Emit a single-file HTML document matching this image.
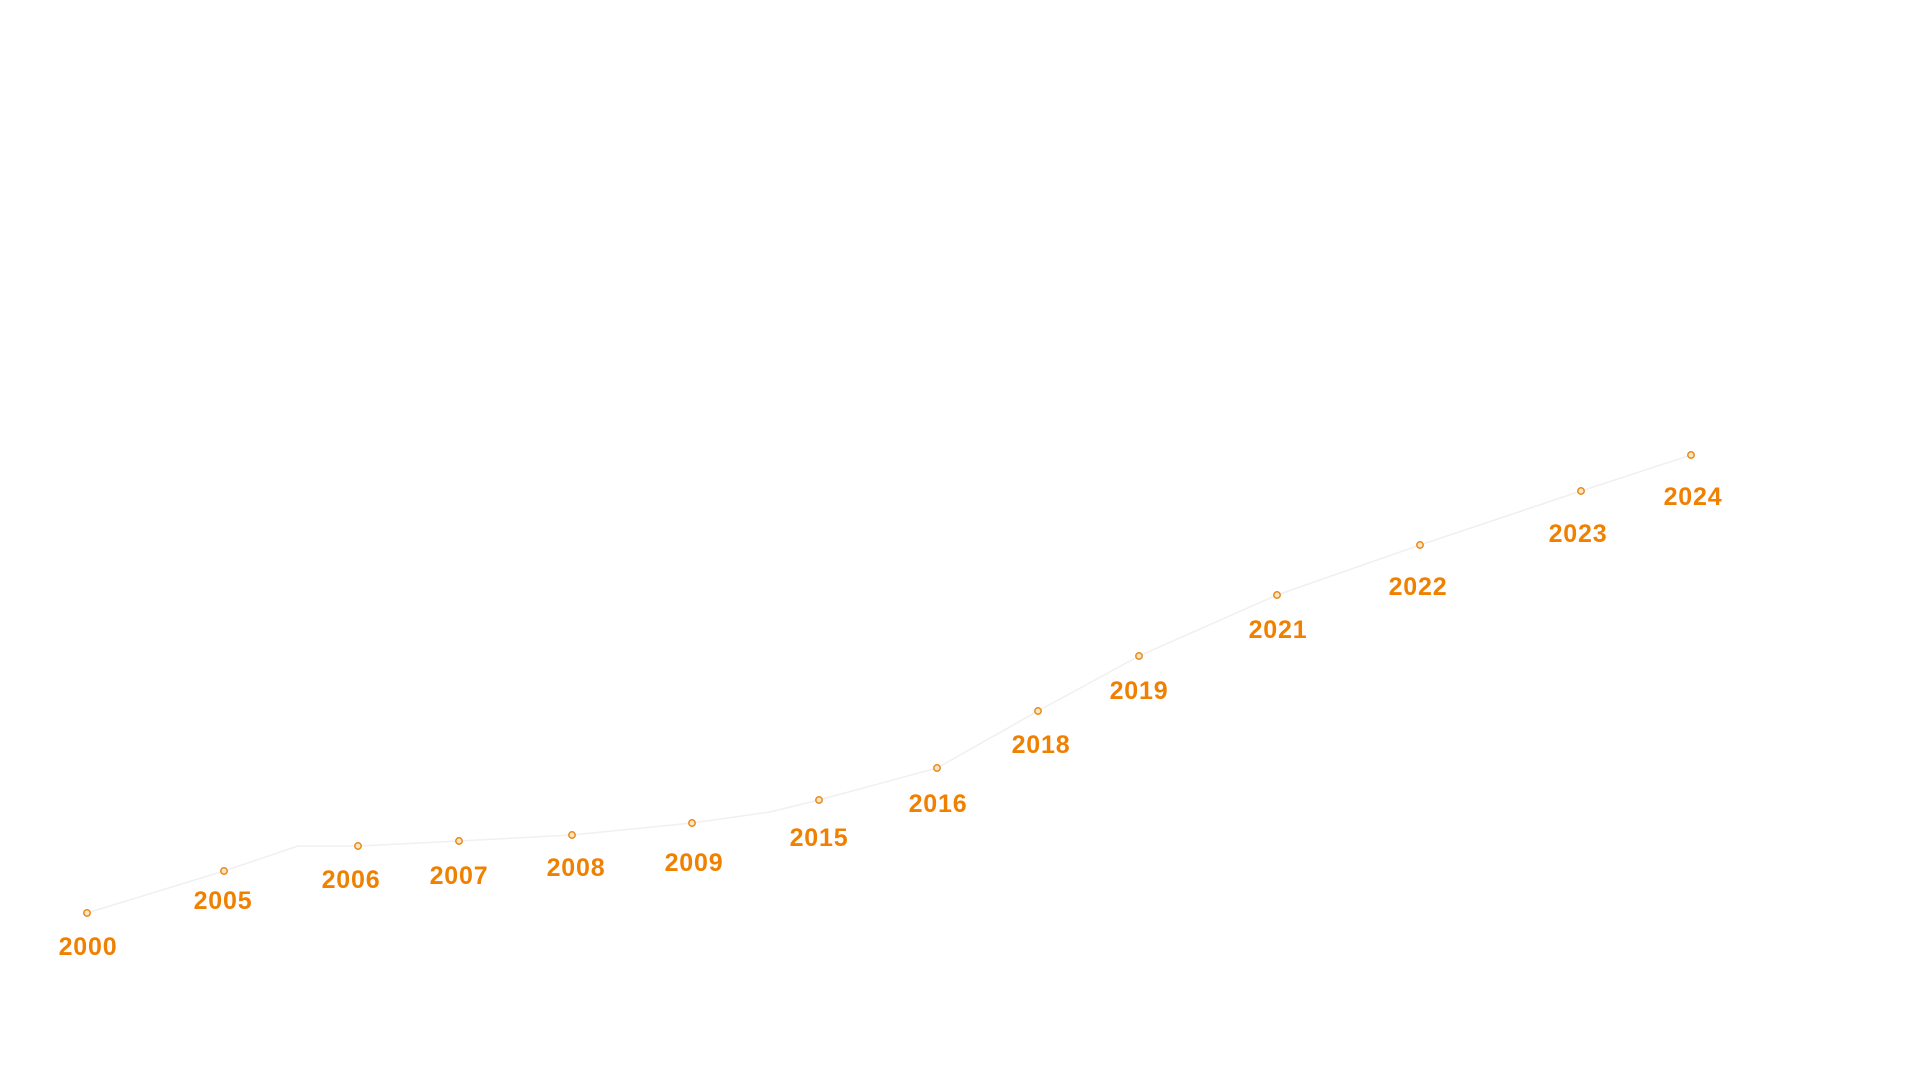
<!DOCTYPE html>
<html><head><meta charset="utf-8"><style>
html,body{margin:0;padding:0;background:#fff;width:1920px;height:1080px;overflow:hidden}
svg{display:block}
text{font-family:"Liberation Sans",sans-serif;font-weight:700;font-size:25px;fill:#f08000;text-anchor:middle;letter-spacing:0.8px}
circle{fill:#fde6c4;stroke:#e8891a;stroke-width:1.5}
</style></head><body>
<svg width="1920" height="1080" viewBox="0 0 1920 1080">
<polyline fill="none" stroke="#f0f0f0" stroke-width="1.5" points="87,913 224,871 298,846 358,846 459,841 572,835 692,823 770,812 819,800 937,768 1038,711 1139,656 1277,595 1420,545 1581,491 1691,455"/>
<g>
<circle cx="87" cy="913" r="3.2"/><circle cx="224" cy="871" r="3.2"/><circle cx="358" cy="846" r="3.2"/><circle cx="459" cy="841" r="3.2"/><circle cx="572" cy="835" r="3.2"/><circle cx="692" cy="823" r="3.2"/><circle cx="819" cy="800" r="3.2"/><circle cx="937" cy="768" r="3.2"/><circle cx="1038" cy="711" r="3.2"/><circle cx="1139" cy="656" r="3.2"/><circle cx="1277" cy="595" r="3.2"/><circle cx="1420" cy="545" r="3.2"/><circle cx="1581" cy="491" r="3.2"/><circle cx="1691" cy="455" r="3.2"/>
</g>
<g>
<text x="88" y="955">2000</text>
<text x="223" y="909">2005</text>
<text x="351" y="888">2006</text>
<text x="459" y="884">2007</text>
<text x="576" y="876">2008</text>
<text x="694" y="871">2009</text>
<text x="819" y="846">2015</text>
<text x="938" y="812">2016</text>
<text x="1041" y="753">2018</text>
<text x="1139" y="699">2019</text>
<text x="1278" y="638">2021</text>
<text x="1418" y="595">2022</text>
<text x="1578" y="542">2023</text>
<text x="1693" y="505">2024</text>
</g>
</svg>
</body></html>
